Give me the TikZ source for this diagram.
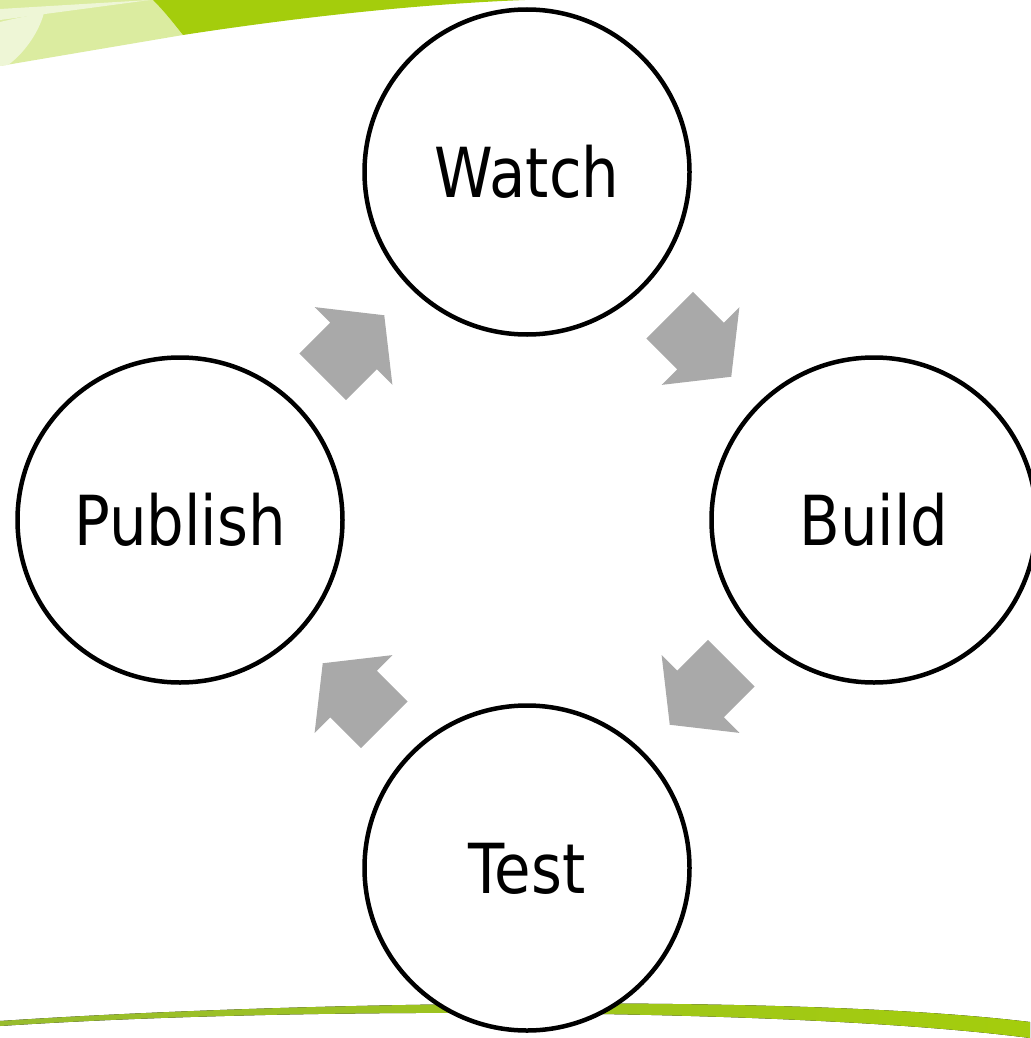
\documentclass[tikz,border=0pt]{standalone}
\usepackage{fontspec}
\newfontfamily\labelfont[FakeStretch=0.86]{DejaVu Sans}
\usetikzlibrary{calc}
\definecolor{leafgreen}{HTML}{A4CD0C}
\definecolor{palegreen}{HTML}{DBECA0}
\definecolor{palestgreen}{HTML}{EEF6D6}
\definecolor{olivegreen}{HTML}{98BC2E}
\definecolor{arrowgray}{HTML}{A9A9A9}
\begin{document}
\begin{tikzpicture}[x=1pt,y=-1pt,
  stage/.style={circle, draw=black, line width=4.5pt, fill=white,
    minimum size=325pt, inner sep=0pt,
    font=\labelfont\fontsize{69}{80}\selectfont,
    text height=50pt, text depth=0pt},
  cyclearrow/.style={fill=arrowgray}]
\useasboundingbox (0,0) rectangle (1030,1038);

% top-left swoosh
\fill[palegreen] (0,0) -- (153,0) .. controls (165,12) and (175,25) .. (183,35) -- (0,66) -- cycle;
\fill[palestgreen] (0,9) -- (150,0) -- (0,20) -- cycle;
\fill[palestgreen] (0,22) .. controls (25,16) and (40,14) .. (44,13) .. controls (38,35) and (22,55) .. (8,65) -- (0,66) -- cycle;
\fill[leafgreen] (153,0) .. controls (165,12) and (175,25) .. (183,35)
  .. controls (300,17) and (420,4) .. (525,0) -- cycle;

% bottom swoosh
\fill[left color=olivegreen, right color=leafgreen]
  (0,1021) .. controls (300,1001) and (800,994) .. (1030,1022)
  -- (1030,1038) .. controls (800,1008) and (300,1006) .. (0,1026) -- cycle;

% stages
\node[stage] (watch)   at (527,172) {Watch};
\node[stage] (build)   at (874,520) {Build};
\node[stage] (test)    at (527,868) {Test};
\node[stage] (publish) at (180,520) {Publish};

% arrows between stages
\coordinate (m1) at ($(watch)!0.5!(build)$);
\coordinate (m2) at ($(build)!0.5!(test)$);
\coordinate (m3) at ($(test)!0.5!(publish)$);
\coordinate (m4) at ($(publish)!0.5!(watch)$);
\foreach \m/\a in {m1/-45, m2/-135, m3/135, m4/45}{
  \fill[cyclearrow, shift={(\m)}, rotate=\a]
    (-43.5pt,-33pt) -- (0pt,-33pt) -- (0pt,-55pt) -- (43.5pt,0pt)
    -- (0pt,55pt) -- (0pt,33pt) -- (-43.5pt,33pt) -- cycle;
}
\end{tikzpicture}
\end{document}
